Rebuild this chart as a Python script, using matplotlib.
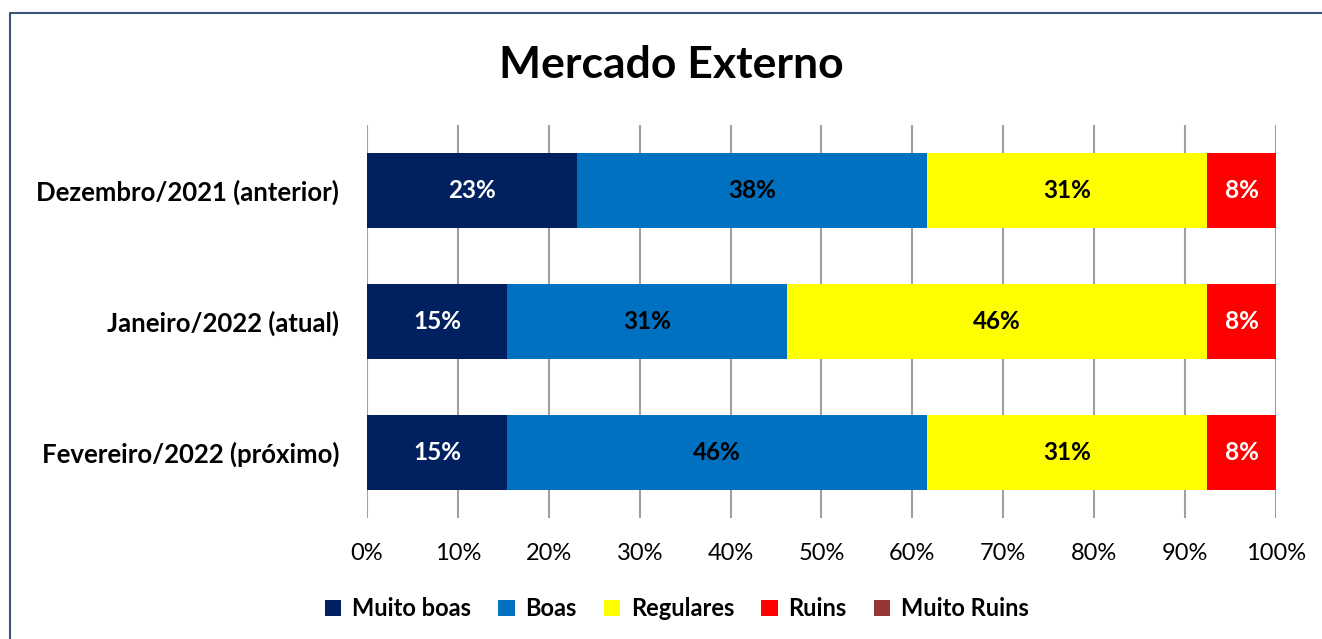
import matplotlib.pyplot as plt
import numpy as np

plt.rcParams['font.family'] = ['Lato', 'DejaVu Sans']

# Data (percent)
categories = ['Dezembro/2021 (anterior)', 'Janeiro/2022 (atual)', 'Fevereiro/2022 (próximo)']
series_names = ['Muito boas', 'Boas', 'Regulares', 'Ruins', 'Muito Ruins']
muito_boas = [23.1, 15.4, 15.4]
boas = [38.5, 30.8, 46.2]
regulares = [30.8, 46.2, 30.8]
ruins = [7.7, 7.7, 7.7]
muito_ruins = [0, 0, 0]

colors = ['#002060', '#0070C0', '#FFFF00', '#FF0000', '#953735']
label_colors = ['white', 'black', 'black', 'white', 'white']

fig = plt.figure(figsize=(13.22, 6.39), dpi=100)
ax = fig.add_axes([0.2776, 0.1894, 0.6876, 0.6150])

y = np.arange(len(categories))
left = np.zeros(len(categories))
for vals, name, col, lc in zip([muito_boas, boas, regulares, ruins, muito_ruins],
                               series_names, colors, label_colors):
    vals = np.array(vals, dtype=float)
    bars = ax.barh(y, vals, left=left, height=0.57, color=col, label=name, zorder=3)
    for b, v in zip(bars, vals):
        if v > 0:
            ax.text(b.get_x() + b.get_width() / 2, b.get_y() + b.get_height() / 2,
                    f'{v:.0f}%', ha='center', va='center', color=lc,
                    fontsize=17.5, fontweight='bold', zorder=4)
    left += vals

ax.set_xlim(0, 100)
ax.set_ylim(len(categories) - 0.5, -0.5)
ax.set_xticks(np.arange(0, 101, 10))
ax.set_xticklabels([f'{t}%' for t in range(0, 101, 10)], fontsize=17)
ax.set_yticks(y)
ax.set_yticklabels(categories, fontsize=18.5, fontweight='bold')
ax.tick_params(axis='x', length=0, pad=18)
ax.tick_params(axis='y', length=0, pad=20)
ax.grid(axis='x', color='#A0A0A0', linewidth=1.5, zorder=0)
for s in ax.spines.values():
    s.set_visible(False)

fig.text(0.508, 0.898, 'Mercado Externo', fontsize=32, fontweight='bold',
         ha='center', va='center')

leg = fig.legend(loc='center', bbox_to_anchor=(0.512, 0.047), ncol=5, frameon=False,
                 handlelength=0.7, handleheight=0.7, handletextpad=0.45, columnspacing=1.15,
                 prop={'size': 17, 'weight': 'bold'})

# chart border (top and left edges)
fig.add_artist(plt.Line2D([0.0076, 0.0076, 1.0], [0.0, 0.9797, 0.9797],
                          transform=fig.transFigure, color='#3B5475', linewidth=1.5))

fig.savefig('out.png', dpi=100)
